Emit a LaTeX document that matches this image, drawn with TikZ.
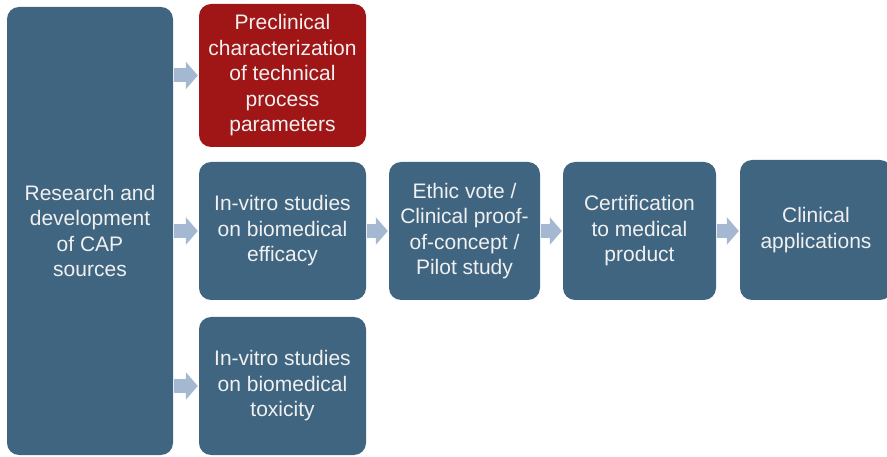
\documentclass[tikz,border=0pt]{standalone}
\usepackage{fontspec}
\setmainfont{Liberation Sans}
\usetikzlibrary{arrows.meta}
\definecolor{slate}{RGB}{64,101,128}
\definecolor{brick}{RGB}{160,22,22}
\definecolor{pale}{RGB}{164,184,210}
\tikzset{
  stage/.style={rounded corners=12pt, fill=slate, inner sep=0pt, align=center,
    text=white!94!black, font=\fontsize{21}{25.5}\selectfont},
  flow/.style={draw=pale, line width=14pt, shorten <=1pt, shorten >=1pt,
    -{Triangle[length=12pt,width=27pt]}}
}
\begin{document}
\begin{tikzpicture}[x=1pt,y=-1pt]
\useasboundingbox (0,0) rectangle (887,457);
\node[stage, minimum width=166pt, minimum height=448pt] (rd) at (90,231){Research and\\development\\of CAP\\sources};
\node[stage, fill=brick, minimum width=167pt, minimum height=143pt] (pre) at (282.5,75.5){Preclinical\\characterization\\of technical\\process\\parameters};
\node[stage, minimum width=167pt, minimum height=138pt] (vivo) at (282.5,231){In-vitro studies\\on biomedical\\efficacy};
\node[stage, minimum width=167pt, minimum height=138pt] (tox) at (282.5,386){In-vitro studies\\on biomedical\\toxicity};
\node[stage, minimum width=151pt, minimum height=138pt] (eth) at (464.5,231){Ethic vote /\\Clinical proof-\\of-concept /\\Pilot study};
\node[stage, minimum width=153pt, minimum height=138pt] (cert) at (639.5,231){Certification\\to medical\\product};
\node[stage, minimum width=152pt, minimum height=140pt] (clin) at (816,230){Clinical\\applications};
\draw[flow](rd.east |- pre) -- (pre.west);
\draw[flow](rd.east |- vivo) -- (vivo.west);
\draw[flow](rd.east |- tox) -- (tox.west);
\draw[flow](vivo) -- (eth);
\draw[flow](eth) -- (cert);
\draw[flow](cert) -- (clin.west |- cert);
\end{tikzpicture}
\end{document}
